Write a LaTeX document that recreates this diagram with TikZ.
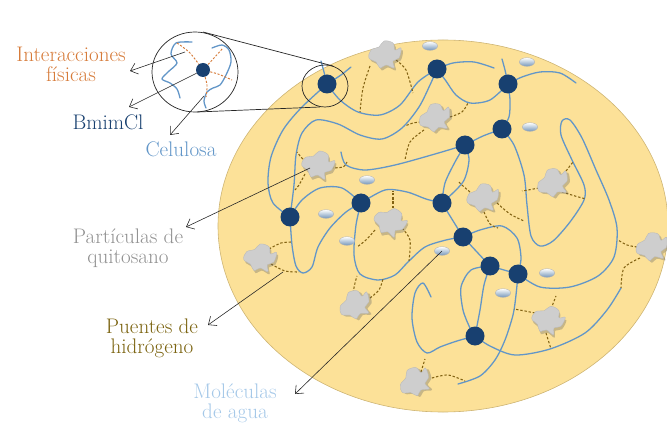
\documentclass[tikz,border=0pt]{standalone}
\usepackage{tikz}
\usetikzlibrary{positioning,arrows.meta}

\definecolor{fondo}{RGB}{252,225,152}
\definecolor{borde}{RGB}{205,180,115}
\definecolor{celu}{RGB}{98,150,200}
\definecolor{bmimazul}{RGB}{24,64,112}
\definecolor{hbond}{RGB}{130,98,18}
\definecolor{naranja}{RGB}{214,122,56}
\definecolor{grisq}{RGB}{145,145,145}
\definecolor{oliva}{RGB}{122,98,14}
\definecolor{aguaazul}{RGB}{165,200,232}
\definecolor{gotaazul}{RGB}{115,150,185}
\definecolor{blobgris}{RGB}{206,206,206}

\tikzset{
  cadena/.style={draw=celu, line width=1.1pt, line cap=round},
  hpuente/.style={draw=hbond, line width=0.9pt, dash pattern=on 2pt off 1.6pt},
  bmim/.style={circle, fill=bmimazul, inner sep=0pt, minimum size=5.7mm},
  gota/.style={draw=gray!60, line width=0.3pt, top color=white, bottom color=gotaazul},
  flecha/.style={-{Straight Barb[length=2mm, width=3.4mm]}, black!85, line width=0.5pt},
  texto/.style={align=center, font=\fontsize{18}{17}\selectfont},
  quitosano/.pic={
    \fill[black!60, opacity=0.35, shift={(1.8,2.4)}] plot[smooth cycle, tension=0.65] coordinates
      {(-16,3) (-14,-5) (-6,-8) (-1,-14) (8,-12) (10,-5) (16,-7) (14,3) (8,6) (9,13) (1,10) (-5,13) (-9,7)};
    \fill[blobgris, draw=gray!55, line width=0.3pt] plot[smooth cycle, tension=0.65] coordinates
      {(-16,3) (-14,-5) (-6,-8) (-1,-14) (8,-12) (10,-5) (16,-7) (14,3) (8,6) (9,13) (1,10) (-5,13) (-9,7)};
  }
}

\begin{document}
\begin{tikzpicture}[x=0.03cm, y=-0.03cm]
  \useasboundingbox (0,0) rectangle (667,425);

  % matriz
  \draw[fill=fondo, draw=borde, line width=0.5pt] (443,226) ellipse (6.75cm and 5.58cm);

  % posiciones del BmimCl
  \foreach \n/\x/\y in {1/327/84, 2/437/69, 3/508/84, 4/502/129, 5/465/145, 6/290/217,
                        7/361/203, 8/442/203, 9/463/237, 10/490/266, 11/518/274, 12/475/336}
    \coordinate (d\n) at (\x,\y);

  % cadenas de celulosa
  \draw[cadena] plot[smooth] coordinates {(d1) (324,72) (321,61)};
  \draw[cadena] plot[smooth] coordinates {(d1) (341,75) (351,67)};
  \draw[cadena] plot[smooth] coordinates {(d1) (301,108) (283,130) (271,157) (268,183) (273,203) (d6)};
  \draw[cadena] plot[smooth] coordinates {(d1) (340,100) (358,112) (380,115) (400,105) (418,82) (d2)};
  \draw[cadena] plot[smooth] coordinates {(d2) (453,63) (474,62) (494,68)};
  \draw[cadena] plot[smooth] coordinates {(d2) (446,81) (456,95) (470,103) (490,100) (d3)};
  \draw[cadena] plot[smooth] coordinates {(d3) (505,70) (502,59)};
  \draw[cadena] plot[smooth] coordinates {(d3) (522,77) (540,72) (560,73) (576,83)};
  \draw[cadena] plot[smooth] coordinates {(d3) (510,100) (509,117) (d4)};
  \draw[cadena] plot[smooth] coordinates {(d4) (483,136) (d5)};
  \draw[cadena] plot[smooth] coordinates {(d2) (430,85) (419,107) (402,128) (382,139) (360,135)
      (338,124) (316,120) (302,133) (296,155) (294,185) (d6)};
  \draw[cadena] plot[smooth] coordinates {(341,152) (346,165) (365,170) (395,165) (435,154) (d5)};
  \draw[cadena] plot[smooth] coordinates {(d5) (455,162) (445,183) (d8)};
  \draw[cadena] plot[smooth] coordinates {(d5) (469,160) (463,182) (d8)};
  \draw[cadena] plot[smooth] coordinates {(d6) (302,200) (320,188) (342,188) (d7)};
  \draw[cadena] plot[smooth] coordinates {(d6) (292,245) (296,266) (303,273) (312,267) (318,247)
      (330,228) (346,212) (d7)};
  \draw[cadena] plot[smooth] coordinates {(d7) (385,190) (407,192) (426,199) (d8)};
  \draw[cadena] plot[smooth] coordinates {(d7) (356,225) (354,255) (360,274) (378,280) (395,275)
      (408,262) (425,247) (446,240) (d9)};
  \draw[cadena] (d8) -- (d9) -- (d10) -- (d11);
  \draw[cadena] plot[smooth] coordinates {(d9) (480,230) (502,226) (517,238) (521,258) (d11)};
  \draw[cadena] plot[smooth] coordinates {(d10) (471,270) (461,287) (463,310) (470,328) (d12)};
  \draw[cadena] plot[smooth] coordinates {(d10) (484,285) (480,310) (d12)};
  \draw[cadena] plot[smooth] coordinates {(d11) (516,295) (513,315) (505,340) (495,360) (480,376) (458,384)};
  \draw[cadena] plot[smooth] coordinates {(d12) (457,341) (440,347) (427,353) (417,342) (412,318)
      (415,293) (423,283) (431,297)};
  \draw[cadena] plot[smooth] coordinates {(d12) (490,346) (515,355) (550,349) (585,333) (607,310) (621,288)};
  \draw[cadena] plot[smooth] coordinates {(d4) (514,145) (524,175) (527,205) (531,236) (540,246)
      (553,241) (570,222) (584,200) (584,185) (572,160) (561,135) (562,121) (570,120) (582,138)
      (596,170) (609,200) (617,228) (614,257) (598,276) (570,287) (540,287) (d11)};

  % puentes de hidrogeno
  \draw[hpuente] plot[smooth] coordinates {(370,66) (363,88) (360,112)};
  \draw[hpuente] plot[smooth] coordinates {(396,60) (406,70) (413,93)};
  \draw[hpuente] plot[smooth] coordinates {(421,122) (413,123) (405,126)};
  \draw[hpuente] plot[smooth] coordinates {(450,117) (462,112) (468,103)};
  \draw[hpuente] plot[smooth] coordinates {(424,130) (410,142) (405,160)};
  \draw[hpuente] plot[smooth] coordinates {(306,162) (301,157) (297,152)};
  \draw[hpuente] plot[smooth] coordinates {(331,168) (343,167) (347,162)};
  \draw[hpuente] plot[smooth] coordinates {(305,174) (299,185) (295,190)};
  \draw[hpuente] plot[smooth] coordinates {(566,171) (573,162)};
  \draw[hpuente] plot[smooth] coordinates {(562,192) (575,196) (586,199)};
  \draw[hpuente] plot[smooth] coordinates {(539,188) (528,190) (522,191)};
  \draw[hpuente] plot[smooth] coordinates {(470,192) (463,186) (459,182)};
  \draw[hpuente] plot[smooth] coordinates {(497,203) (510,214) (524,221)};
  \draw[hpuente] plot[smooth] coordinates {(484,212) (490,224) (498,228)};
  \draw[hpuente] plot[smooth] coordinates {(393,208) (393,197) (393,191)};
  \draw[hpuente] plot[smooth] coordinates {(375,230) (366,240) (357,247)};
  \draw[hpuente] plot[smooth] coordinates {(402,228) (410,240) (409,261)};
  \draw[hpuente] plot[smooth] coordinates {(637,247) (627,245) (618,240)};
  \draw[hpuente] plot[smooth] coordinates {(640,258) (624,268) (621,288)};
  \draw[hpuente] plot[smooth] coordinates {(269,249) (281,243) (292,242)};
  \draw[hpuente] plot[smooth] coordinates {(271,264) (285,271) (299,272)};
  \draw[hpuente] plot[smooth] coordinates {(353,293) (355,283) (357,276)};
  \draw[hpuente] plot[smooth] coordinates {(370,298) (379,290) (383,279)};
  \draw[hpuente] plot[smooth] coordinates {(535,313) (525,311) (514,309)};
  \draw[hpuente] plot[smooth] coordinates {(551,309) (556,296)};
  \draw[hpuente] plot[smooth] coordinates {(546,333) (551,349)};
  \draw[hpuente] plot[smooth] coordinates {(421,372) (425,359)};
  \draw[hpuente] plot[smooth] coordinates {(432,378) (448,375) (465,381)};

  % particulas de quitosano
  \pic[rotate=0]   at (385,55)  {quitosano};
  \pic[rotate=15]  at (435,118) {quitosano};
  \pic[rotate=-10] at (318,165) {quitosano};
  \pic[rotate=20]  at (553,183) {quitosano};
  \pic[rotate=5]   at (483,198) {quitosano};
  \pic[rotate=-20] at (390,222) {quitosano};
  \pic[rotate=10]  at (652,247) {quitosano};
  \pic[rotate=-5]  at (260,258) {quitosano};
  \pic[rotate=25]  at (355,305) {quitosano};
  \pic[rotate=-15] at (548,320) {quitosano};
  \pic[rotate=30]  at (415,382) {quitosano};

  % moleculas de agua
  \foreach \x/\y in {430/46, 527/62, 530/127, 367/180, 326/214, 347/241, 442/251, 547/273, 503/293}
    \shade[gota] (\x,\y) ellipse (0.23cm and 0.13cm);

  % BmimCl
  \foreach \n in {1,...,12}
    \node[bmim] (b\n) at (d\n) {};

  % lupa
  \draw[black!85, line width=0.6pt] (325,86) ellipse (0.69cm and 0.63cm);
  \draw[black!85, line width=0.6pt, fill=white] (195,72) ellipse (1.29cm and 1.2cm);
  \draw[black!85, line width=0.6pt] (203,32) -- (333,66);
  \draw[black!85, line width=0.6pt] (197,112) -- (320,107);
  \draw[cadena] plot[smooth] coordinates {(192,42) (176,43) (171,54) (177,63) (168,72) (162,79)
      (170,83) (177,89) (180,98)};
  \draw[cadena] plot[smooth] coordinates {(212,48) (222,45) (229,50) (231,62) (226,75) (220,85)
      (213,88) (207,92) (204,101) (206,108)};
  \draw[naranja, line width=0.8pt, dash pattern=on 1.8pt off 1.4pt]
    plot[smooth] coordinates {(177,43) (190,53) (203,70)}
    plot[smooth] coordinates {(203,70) (214,58) (223,48)}
    plot[smooth] coordinates {(203,70) (218,74) (232,80)}
    plot[smooth] coordinates {(203,70) (207,85) (206,97)};
  \node[bmim, minimum size=4.2mm] (bm) at (203,70) {};

  % etiquetas
  \node[texto, text=naranja]  (interac) at (71,64)   {Interacciones\\físicas};
  \node[texto, text=bmimazul] (bmimcl)  at (108,122) {BmimCl};
  \node[texto, text=celu]     (celul)   at (181,149) {Celulosa};
  \node[texto, text=grisq]    (quito)   at (128,248) {Partículas de\\quitosano};
  \node[texto, text=oliva]    (puentes) at (152,338) {Puentes de\\hidrógeno};
  \node[texto, text=aguaazul] (agua)    at (235,403) {Moléculas\\de agua};

  \coordinate (tInt) at (130,71);
  \coordinate (tBm)  at (129,107);
  \coordinate (tCel) at (170,135);
  \coordinate (tQui) at (186,227);
  \coordinate (tPue) at (208,325);
  \coordinate (tAgu) at (295,394);
  \coordinate (oInt) at (185,52);
  \coordinate (oCel) at (204,96);
  \coordinate (oQui) at (310,168);
  \coordinate (oPue) at (283,272);
  \coordinate (oAgu) at (442,251);

  \draw[flecha] (oInt) -- (tInt);
  \draw[flecha] (bm)   -- (tBm);
  \draw[flecha] (oCel) -- (tCel);
  \draw[flecha] (oQui) -- (tQui);
  \draw[flecha] (oPue) -- (tPue);
  \draw[flecha] (oAgu) -- (tAgu);
\end{tikzpicture}
\end{document}
